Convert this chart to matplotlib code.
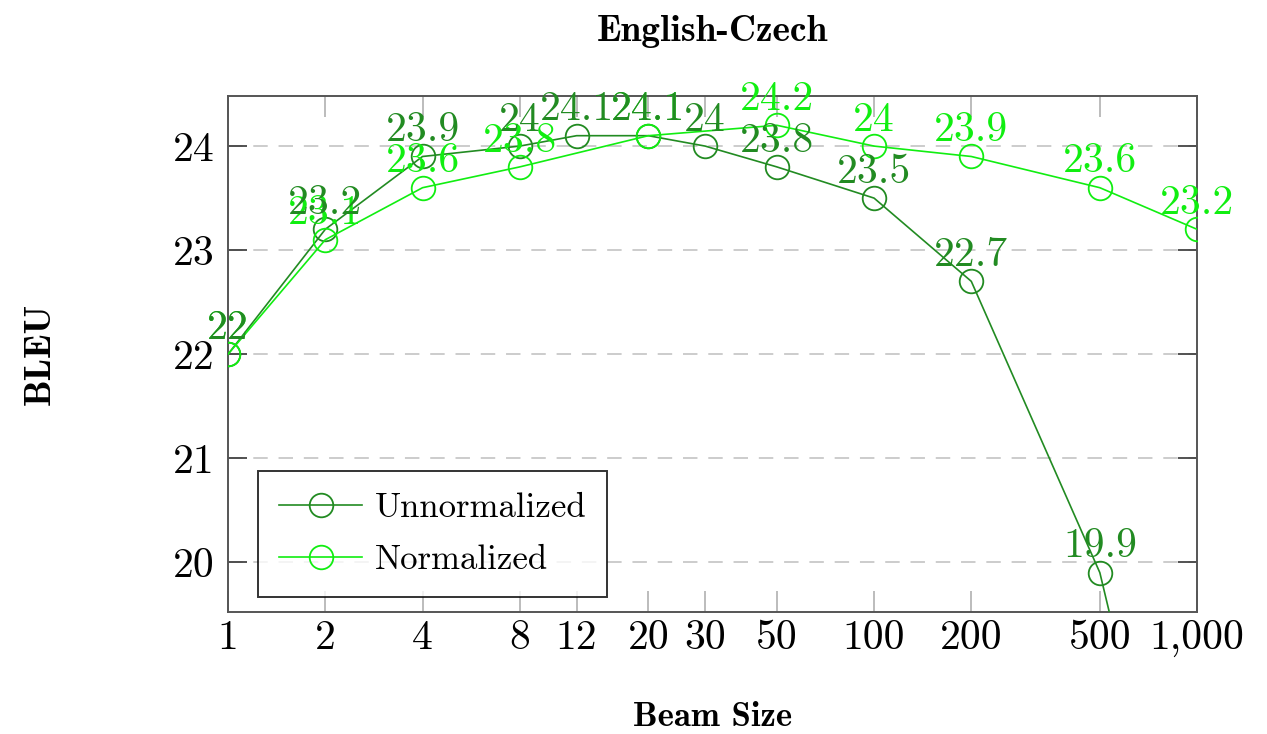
import matplotlib
matplotlib.use("Agg")
import matplotlib.pyplot as plt
from matplotlib.ticker import FixedLocator, FixedFormatter, NullLocator

# DADOS
beam_unnorm = [1, 2, 4, 8, 12, 20, 30, 50, 100, 200, 500, 1000]
bleu_unnorm = [22, 23.2, 23.9, 24, 24.1, 24.1, 24, 23.8, 23.5, 22.7, 19.9, 16.0]

beam_norm = [1, 2, 4, 8, 20, 50, 100, 200, 500, 1000]
bleu_norm = [22, 23.1, 23.6, 23.8, 24.1, 24.2, 24, 23.9, 23.6, 23.2]

xticks = [1, 2, 4, 8, 12, 20, 30, 50, 100, 200, 500, 1000]
xtick_labels = ["1", "2", "4", "8", "12", "20", "30", "50", "100", "200", "500", "1,000"]
yticks = [20, 21, 22, 23, 24]

COR_ESCURA = "#228b22"
COR_CLARA = "#11ee11"

plt.rcParams["font.family"] = ["cmr10", "DejaVu Serif"]
plt.rcParams["axes.unicode_minus"] = False

fig = plt.figure(figsize=(12.67, 7.34), dpi=100)
ax = fig.add_axes([0.18, 0.166, 0.7648, 0.703])

ax.set_xscale("log")
ax.set_xlim(1, 1000)
ax.set_ylim(19.52, 24.48)

series = [
    (beam_unnorm, bleu_unnorm, COR_ESCURA, "Unnormalized", 5),
    (beam_norm, bleu_norm, COR_CLARA, "Normalized", 4),
]
for xs, ys, cor, nome, z in series:
    ax.plot(xs, ys, color=cor, lw=1.2, marker="o", ms=17, mfc="none",
            mec=cor, mew=1.3, label=nome, zorder=3)
    for x, y in zip(xs, ys):
        ax.annotate(f"{y:g}", (x, y), xytext=(0, 11), textcoords="offset points",
                    ha="center", va="baseline", fontsize=30, color=cor,
                    annotation_clip=True, zorder=z)

# eixos
ax.xaxis.set_major_locator(FixedLocator(xticks))
ax.xaxis.set_major_formatter(FixedFormatter(xtick_labels))
ax.xaxis.set_minor_locator(NullLocator())
ax.set_yticks(yticks)
ax.set_yticklabels([str(v) for v in yticks])

ax.tick_params(axis="x", which="major", direction="in", length=15, width=1.1,
               color="#aaaaaa", top=True, bottom=True, labelsize=30, pad=5)
ax.tick_params(axis="y", which="major", direction="in", length=14, width=1.3,
               color="#444444", left=True, right=True, labelsize=30, pad=10)

for s in ax.spines.values():
    s.set_color("#555555")
    s.set_linewidth(1.4)

ax.grid(True, axis="y", linestyle=(0, (8, 6)), color="#c8c8c8", lw=1.3, zorder=0)

leg = ax.legend(loc="lower left", bbox_to_anchor=(0.031, 0.029), borderaxespad=0,
                fontsize=25, frameon=True, fancybox=False, edgecolor="black",
                handlelength=2.4, handletextpad=0.35, borderpad=0.6,
                labelspacing=0.6)
leg.get_frame().set_linewidth(1.4)

# titulos
fig.text(0.5623, 0.957, "English-Czech", ha="center", va="center",
         fontsize=27, family=["cmb10", "DejaVu Serif"])
fig.text(0.5623, 0.022, "Beam Size", ha="center", va="center",
         fontsize=25, family=["cmb10", "DejaVu Serif"])
fig.text(0.032, 0.518, "BLEU", ha="center", va="center", rotation=90,
         fontsize=27, family=["cmb10", "DejaVu Serif"])

fig.savefig("out.png", dpi=100)
